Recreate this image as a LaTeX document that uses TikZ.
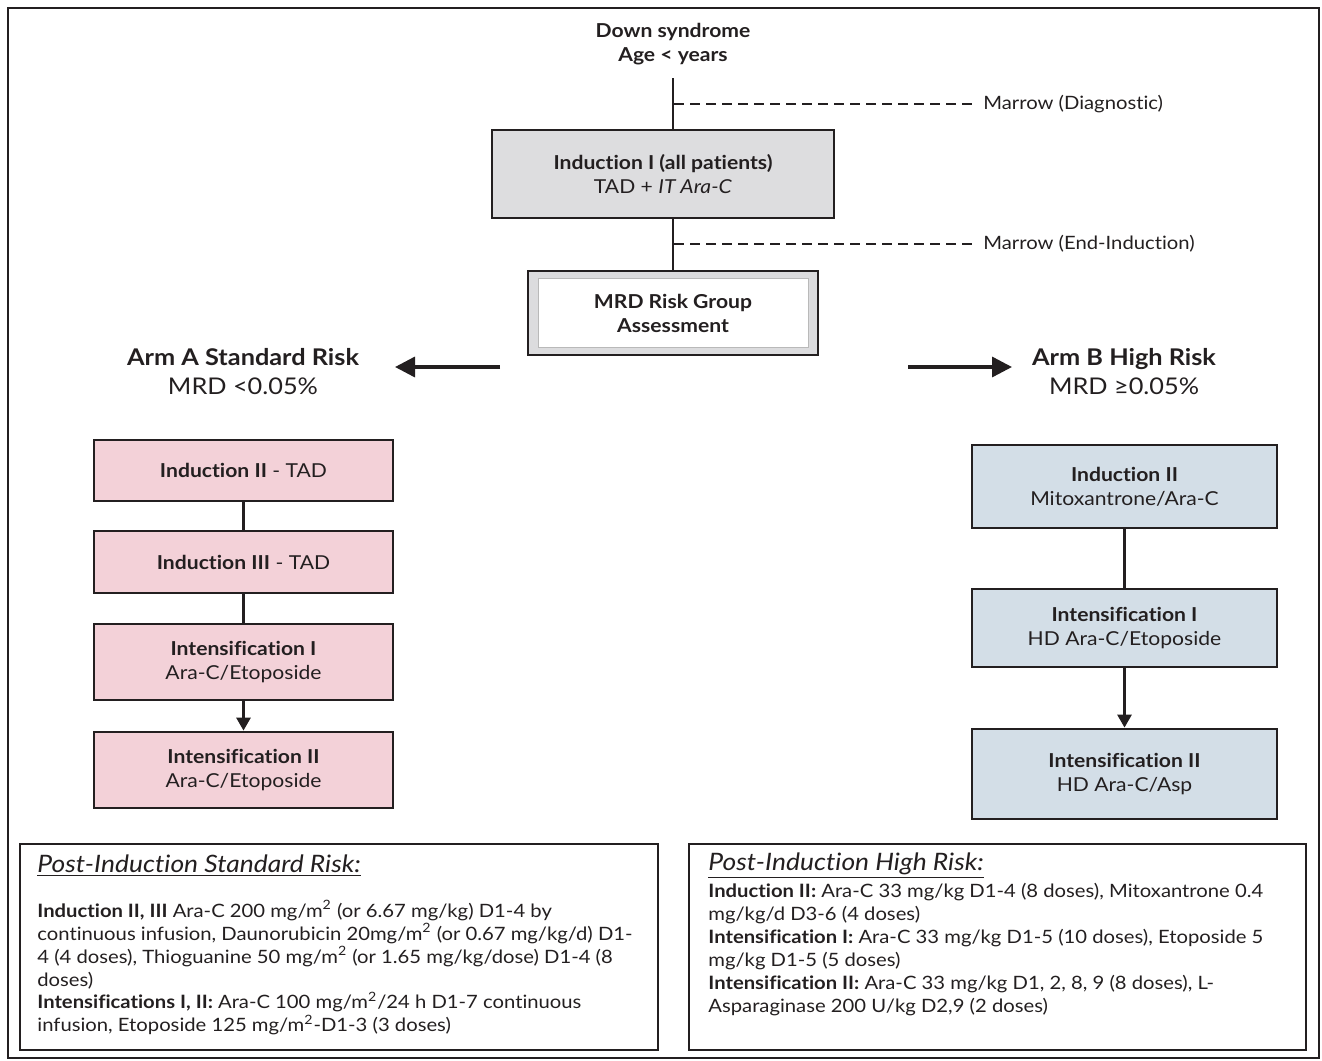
\documentclass[tikz,border=0pt]{standalone}
\usepackage{fontspec}
\setmainfont{Lato}[FakeStretch=1.1, Ligatures=NoCommon]
\usetikzlibrary{positioning, arrows.meta, calc}
\definecolor{flowdark}{HTML}{231F20}
\definecolor{indgray}{HTML}{DDDDDF}
\definecolor{stdpink}{HTML}{F3D1D8}
\definecolor{hiblue}{HTML}{D3DEE7}
\definecolor{mrdband}{HTML}{DCDCDE}
\begin{document}
\begin{tikzpicture}[x=0.5pt, y=-0.5pt,
    box/.style={draw=flowdark, line width=1.4pt, text=flowdark, align=center, inner sep=0pt, font=\fontsize{9.6}{12}\selectfont},
    stdbox/.style={box, fill=stdpink, minimum width=149.5pt},
    hibox/.style={box, fill=hiblue, minimum width=152.5pt},
    link/.style={draw=flowdark, line width=1.4pt},
    flow/.style={link, -{Triangle[length=6.5pt, width=7pt]}},
    armarrow/.style={draw=flowdark, line width=1.7pt, -{Triangle[length=10pt, width=10pt]}},
    marrow/.style={draw=flowdark, line width=1pt, dash pattern=on 5pt off 3pt},
    armtext/.style={text=flowdark, align=center, font=\fontsize{11.5}{14.5}\selectfont},
    notebox/.style={draw=flowdark, line width=1.2pt, inner sep=0pt},
    notetext/.style={text=flowdark, align=left, inner sep=0pt, font=\fontsize{9.2}{11.45}\selectfont}]
  \useasboundingbox (0,0) rectangle (1322,1060);
  \draw[flowdark, line width=1.3pt] (8,8) rectangle (1319,1058);

  % top of the scheme
  \node[text=flowdark, align=center, font=\bfseries\fontsize{9.6}{12}\selectfont] (start) at (673,44) {Down syndrome\\Age < years};
  \node[box, fill=indgray, minimum width=171pt, minimum height=44pt] (indI) at (663,174) {\textbf{Induction I (all patients)}\\TAD + \textit{IT Ara-C}};
  \node[box, fill=mrdband, minimum width=145pt, minimum height=42pt] (mrd) at (673,313) {};
  \node[box, draw=gray!55, line width=0.4pt, fill=white, minimum width=135pt, minimum height=34.5pt, font=\bfseries\fontsize{9.6}{12}\selectfont] (mrdin) at (mrd) {MRD Risk Group\\Assessment};

  \coordinate (topend) at (673,78);
  \draw[link] (topend) -- (topend |- indI.north);
  \draw[link] (indI.south -| topend) -- (mrd.north);

  % marrow samples
  \node[anchor=west, inner sep=0pt, text=flowdark, font=\fontsize{9.2}{12}\selectfont] (diag) at (983,104) {Marrow (Diagnostic)};
  \node[anchor=west, inner sep=0pt, text=flowdark, font=\fontsize{9.2}{12}\selectfont] (endind) at (983,244) {Marrow (End-Induction)};
  \coordinate (diagstart) at (674,104);
  \coordinate (endstart) at (674,244);
  \draw[marrow] (diagstart) -- ([xshift=-5pt]diag.west);
  \draw[marrow] (endstart) -- ([xshift=-5pt]endind.west);

  % risk arms
  \node[armtext] (armA) at (243,372) {\textbf{Arm A Standard Risk}\\MRD <0.05\%};
  \node[armtext] (armB) at (1124,372) {\textbf{Arm B High Risk}\\MRD ≥0.05\%};
  \coordinate (splitL) at (500,367);
  \coordinate (tipL) at (395,367);
  \coordinate (splitR) at (908,367);
  \coordinate (tipR) at (1012,367);
  \draw[armarrow] (splitL) -- (tipL);
  \draw[armarrow] (splitR) -- (tipR);

  % arm A
  \node[stdbox, minimum height=30.5pt] (aIndII) at (243.5,470.5) {\textbf{Induction II} - TAD};
  \node[stdbox, minimum height=31pt] (aIndIII) at (243.5,562) {\textbf{Induction III} - TAD};
  \node[stdbox, minimum height=38pt] (aIntI) at (243.5,662) {\textbf{Intensification I}\\Ara-C/Etoposide};
  \node[stdbox, minimum height=38pt] (aIntII) at (243.5,770) {\textbf{Intensification II}\\Ara-C/Etoposide};
  \draw[link] (aIndII) -- (aIndIII);
  \draw[link] (aIndIII) -- (aIntI);
  \draw[flow] (aIntI) -- (aIntII);

  % arm B
  \node[hibox, minimum height=41.5pt] (bIndII) at (1124.5,486.5) {\textbf{Induction II}\\Mitoxantrone/Ara-C};
  \node[hibox, minimum height=39pt] (bIntI) at (1124.5,628) {\textbf{Intensification I}\\HD Ara-C/Etoposide};
  \node[hibox, minimum height=45pt] (bIntII) at (1124.5,774) {\textbf{Intensification II}\\HD Ara-C/Asp};
  \draw[link] (bIndII) -- (bIntI);
  \draw[flow] (bIntI) -- (bIntII);

  % dosing notes
  \node[notebox, anchor=north west, minimum width=319pt, minimum height=103pt] (notesA) at (19,843) {};
  \node[notebox, anchor=north west, minimum width=308.5pt, minimum height=103pt] (notesB) at (688,843) {};
  \node[notetext, anchor=west, font=\itshape\fontsize{12}{14}\selectfont] (titleA) at (37,866) {\underline{Post-Induction Standard Risk:}};
  \node[notetext, anchor=west, font=\itshape\fontsize{12}{14}\selectfont] (titleB) at (708,866) {\underline{Post-Induction High Risk:}};
  \node[notetext, anchor=north west] (bodyA) at (37,900) {\textbf{Induction II, III} Ara-C 200 mg/m\textsuperscript{2} (or 6.67 mg/kg) D1-4 by\\
    continuous infusion, Daunorubicin 20mg/m\textsuperscript{2} (or 0.67 mg/kg/d) D1-\\
    4 (4 doses), Thioguanine 50 mg/m\textsuperscript{2} (or 1.65 mg/kg/dose) D1-4 (8\\
    doses)\\
    \textbf{Intensifications I, II:} Ara-C 100 mg/m\textsuperscript{2}/24 h D1-7 continuous\\
    infusion, Etoposide 125 mg/m\textsuperscript{2}-D1-3 (3 doses)};
  \node[notetext, anchor=north west] (bodyB) at (708,883) {\textbf{Induction II:} Ara-C 33 mg/kg D1-4 (8 doses), Mitoxantrone 0.4\\
    mg/kg/d D3-6 (4 doses)\\
    \textbf{Intensification I:} Ara-C 33 mg/kg D1-5 (10 doses), Etoposide 5\\
    mg/kg D1-5 (5 doses)\\
    \textbf{Intensification II:} Ara-C 33 mg/kg D1, 2, 8, 9 (8 doses), L-\\
    Asparaginase 200 U/kg D2,9 (2 doses)};
\end{tikzpicture}
\end{document}
